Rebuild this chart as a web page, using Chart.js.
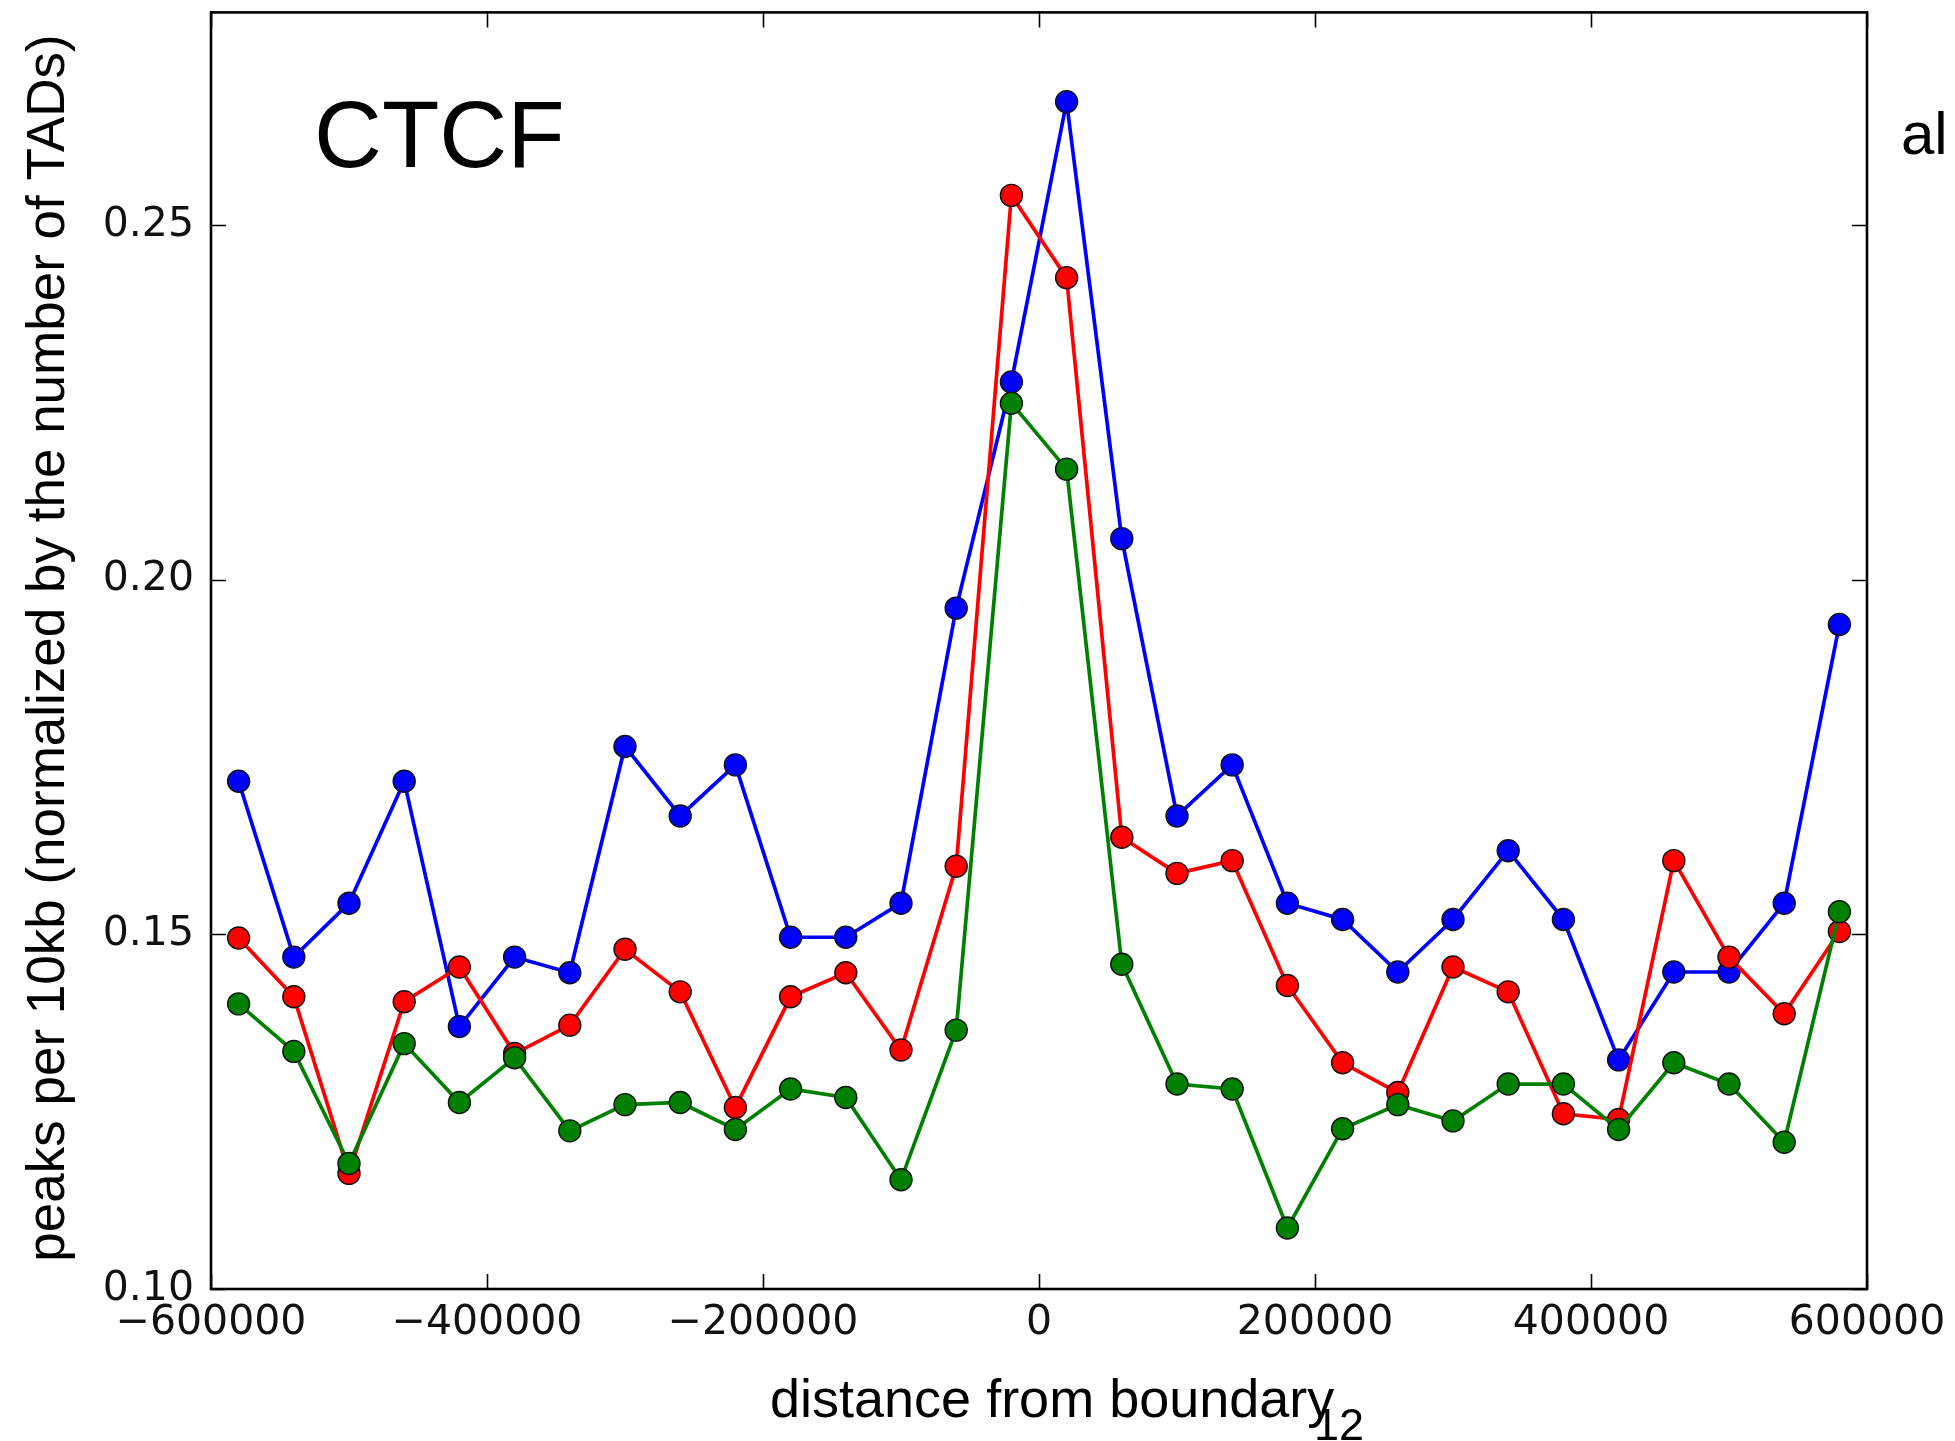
<!DOCTYPE html>
<html>
<head>
<meta charset="utf-8">
<script src="https://cdn.jsdelivr.net/npm/chart.js@4.4.1/dist/chart.umd.min.js"></script>
<style>
html,body{margin:0;padding:0;background:#fff;}
#c{display:block;}
</style>
</head>
<body>
<canvas id="c" width="1955" height="1441"></canvas>
<script>
// ---- data ----
const distances = [-580000,-540000,-500000,-460000,-420000,-380000,-340000,-300000,-260000,-220000,
  -180000,-140000,-100000,-60000,-20000,20000,60000,100000,140000,180000,
  220000,260000,300000,340000,380000,420000,460000,500000,540000,580000];
const blueValues = [0.1716,0.1468,0.1544,0.1716,0.1370,0.1468,0.1446,0.1765,0.1667,0.1739,
  0.1496,0.1496,0.1544,0.1960,0.2279,0.2674,0.2058,0.1667,0.1739,0.1544,
  0.1521,0.1447,0.1521,0.1618,0.1521,0.1323,0.1447,0.1447,0.1544,0.1937];
const redValues = [0.1495,0.1412,0.1163,0.1405,0.1454,0.1332,0.1372,0.1479,0.1419,0.1256,
  0.1412,0.1446,0.1337,0.1596,0.2542,0.2426,0.1637,0.1586,0.1604,0.1428,
  0.1319,0.1277,0.1454,0.1419,0.1247,0.1239,0.1604,0.1468,0.1388,0.1504];
const greenValues = [0.1402,0.1335,0.1177,0.1346,0.1263,0.1326,0.1223,0.1260,0.1263,0.1225,
  0.1282,0.1270,0.1154,0.1365,0.2249,0.2156,0.1458,0.1289,0.1282,0.1086,
  0.1226,0.1260,0.1237,0.1289,0.1289,0.1225,0.1319,0.1289,0.1207,0.1532];
const xTickValues = [-600000,-400000,-200000,0,200000,400000,600000];
const yTickValues = [0.10,0.15,0.20,0.25];
const yTitle = 'peaks per 10kb (normalized by the number of TADs)';
const xTitle = 'distance from boundary';
const panelLabel = 'CTCF';
const sideLabel = 'al';
const pageNumber = '12';

function pts(vals){ return distances.map((d,i)=>({x:d,y:vals[i]})); }
function ds(vals,color,order){
  return {data:pts(vals),borderColor:color,backgroundColor:color,borderWidth:3.7,
    pointRadius:11,pointBorderColor:'#111',pointBorderWidth:1.4,pointBackgroundColor:color,
    tension:0,order:order,clip:false};
}

const decor = {
  id:'decor',
  afterDraw(chart){
    const ctx = chart.ctx, a = chart.chartArea;
    const xs = chart.scales.x, ys = chart.scales.y;
    ctx.save();
    // inward ticks
    ctx.strokeStyle = '#000'; ctx.lineWidth = 1.6;
    const tl = 15;
    xs.ticks.forEach(t=>{
      const px = Math.round(xs.getPixelForValue(t.value))+0.5;
      ctx.beginPath();
      ctx.moveTo(px,a.bottom); ctx.lineTo(px,a.bottom-tl);
      ctx.moveTo(px,a.top); ctx.lineTo(px,a.top+tl);
      ctx.stroke();
    });
    ys.ticks.forEach(t=>{
      const py = Math.round(ys.getPixelForValue(t.value))+0.5;
      ctx.beginPath();
      ctx.moveTo(a.left,py); ctx.lineTo(a.left+tl,py);
      ctx.moveTo(a.right,py); ctx.lineTo(a.right-tl,py);
      ctx.stroke();
    });
    // frame
    ctx.lineWidth = 2.6;
    ctx.strokeRect(a.left, a.top, a.right-a.left, a.bottom-a.top);
    // texts
    ctx.fillStyle = '#000';
    ctx.textBaseline = 'alphabetic';
    ctx.textAlign = 'left';
    ctx.font = '94px "Liberation Sans", Arial, sans-serif';
    ctx.fillText(panelLabel, 314, 167);
    ctx.font = '60px "Liberation Sans", Arial, sans-serif';
    ctx.fillText(sideLabel, 1901, 154);
    ctx.font = '54px "Liberation Sans", Arial, sans-serif';
    ctx.fillText(xTitle, 770, 1417);
    ctx.font = '45px "Liberation Sans", Arial, sans-serif';
    ctx.fillText(pageNumber, 1314, 1440);
    // y title
    ctx.save();
    ctx.translate(64, 648);
    ctx.rotate(-Math.PI/2);
    ctx.textAlign = 'center';
    ctx.font = '53px "Liberation Sans", Arial, sans-serif';
    ctx.fillText(yTitle, 0, 0);
    ctx.restore();
    ctx.restore();
  }
};

new Chart(document.getElementById('c'), {
  type:'line',
  data:{datasets:[ds(blueValues,'#0000ff',3), ds(redValues,'#ff0000',2), ds(greenValues,'#008000',1)]},
  options:{
    responsive:false, animation:false, devicePixelRatio:1,
    layout:{padding:{left:0,right:88,top:11,bottom:0}},
    plugins:{legend:{display:false},tooltip:{enabled:false}},
    scales:{
      x:{type:'linear',min:-600000,max:600000,
        grid:{display:false,drawTicks:false},border:{display:false},
        afterBuildTicks(s){ s.ticks = xTickValues.map(v=>({value:v})); },
        afterFit(s){ s.height = 152; s.paddingLeft = 0; s.paddingRight = 0; },
        ticks:{padding:10,maxRotation:0,autoSkip:false,color:'#111',
          font:{family:'"DejaVu Sans"',size:41},
          callback:(v)=>String(v).replace('-','\u2212')}
      },
      y:{type:'linear',min:0.10,max:0.28,
        grid:{display:false,drawTicks:false},border:{display:false},
        afterBuildTicks(s){ s.ticks = yTickValues.map(v=>({value:v})); },
        afterFit(s){ s.width = 211; s.paddingTop = 0; s.paddingBottom = 0; },
        ticks:{padding:17,color:'#111',font:{family:'"DejaVu Sans"',size:41},
          callback:(v)=>Number(v).toFixed(2)}
      }
    }
  },
  plugins:[decor]
});
</script>
</body>
</html>
